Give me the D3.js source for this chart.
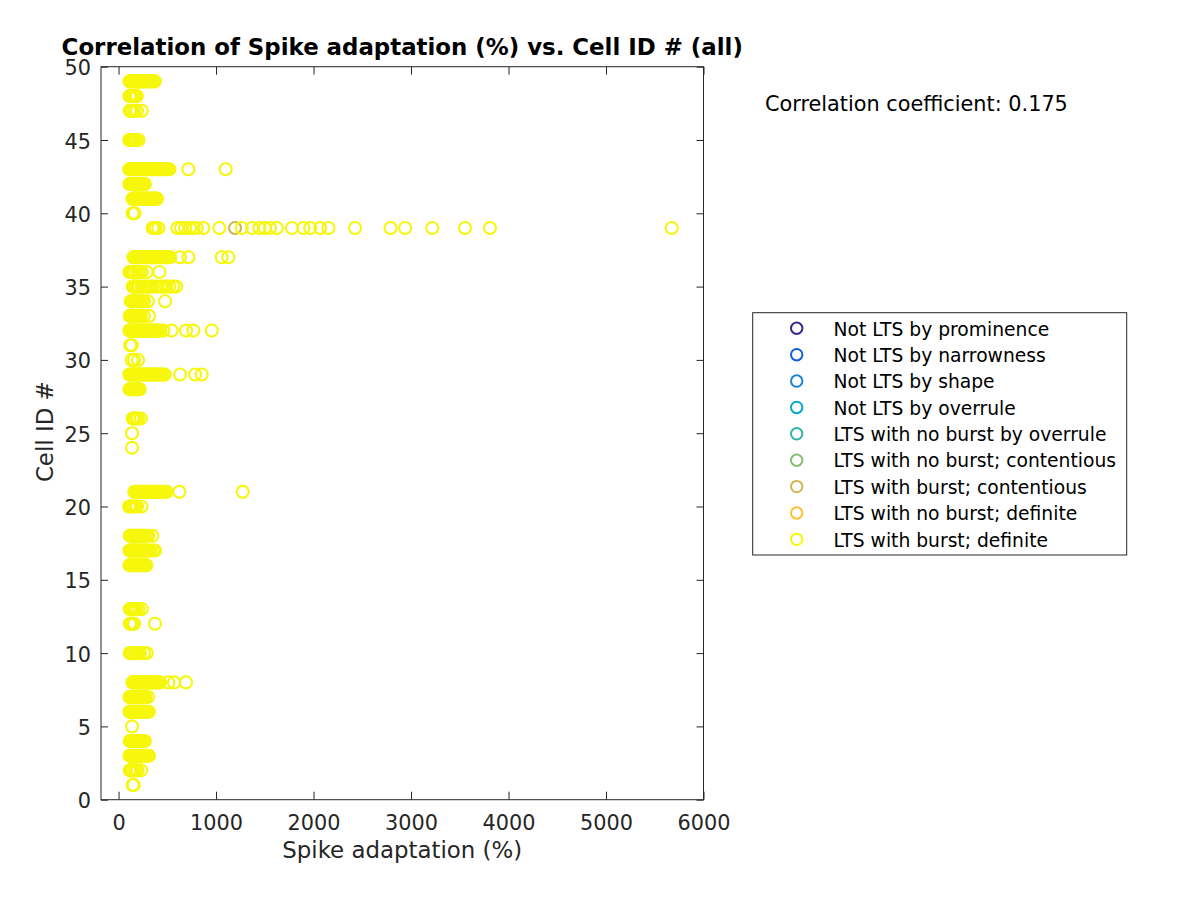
<!DOCTYPE html>
<html>
<head>
<meta charset="utf-8">
<script src="https://cdn.jsdelivr.net/npm/d3@7"></script>
<style>
  html, body { margin: 0; padding: 0; background: #ffffff; }
  svg { display: block; }
  text { font-family: "DejaVu Sans", sans-serif; }
</style>
</head>
<body>
<div id="chart"></div>
<script>
// ---------------- data ----------------
const titleText = "Correlation of Spike adaptation (%) vs. Cell ID # (all)";
const xLabelText = "Spike adaptation (%)";
const yLabelText = "Cell ID #";
const correlationCoefficient = 0.175;

const legendLabels = [
  "Not LTS by prominence",
  "Not LTS by narrowness",
  "Not LTS by shape",
  "Not LTS by overrule",
  "LTS with no burst by overrule",
  "LTS with no burst; contentious",
  "LTS with burst; contentious",
  "LTS with no burst; definite",
  "LTS with burst; definite"
];

const xTicks = [0, 1000, 2000, 3000, 4000, 5000, 6000];
const yTicks = [0, 5, 10, 15, 20, 25, 30, 35, 40, 45, 50];
const xDomain = [-180, 6000];
const yDomain = [0, 50];

// "LTS with burst; contentious"
const contentiousCells = [39];
const contentiousAdaptation = [[1195]];

// "LTS with burst; definite": cell IDs and the spike adaptation values of each cell
const definiteCells = [49, 48, 47, 45, 43, 42, 41, 40, 39, 37, 36, 35, 34, 33, 32, 31, 30, 29, 28,
  26, 25, 24, 21, 20, 18, 17, 16, 13, 12, 10, 8, 7, 6, 5, 4, 3, 2, 1];
const definiteAdaptation = [
  /*49*/ [112, 120, 128, 136, 145, 153, 162, 170, 180, 190, 200, 210, 220, 232, 245, 258, 270, 285, 300, 315, 330, 345, 360, 372],
  /*48*/ [112, 120, 128, 137, 150, 165, 180, 188],
  /*47*/ [115, 122, 130, 142, 165, 190, 238],
  /*45*/ [110, 120, 130, 140, 155, 170, 185, 205],
  /*43*/ [110, 118, 126, 135, 145, 155, 165, 175, 185, 196, 207, 218, 230, 242, 255, 268, 280, 292, 305, 318, 330, 342, 355, 368, 380, 393, 405, 418, 430, 445, 460, 475, 494, 510, 522, 716, 1099],
  /*42*/ [112, 120, 128, 137, 146, 155, 164, 173, 183, 193, 203, 214, 225, 237, 248, 260, 270],
  /*41*/ [142, 150, 158, 167, 176, 185, 195, 205, 215, 226, 237, 248, 260, 272, 284, 296, 308, 320, 333, 346, 359, 372, 385, 395],
  /*40*/ [145, 165],
  /*39*/ [350, 365, 380, 408, 603, 640, 682, 733, 770, 802, 870, 1034, 1264, 1370, 1444, 1500, 1554, 1623, 1778, 1897, 1966, 2068, 2153, 2426, 2790, 2940, 3218, 3554, 3810, 5674],
  /*37*/ [152, 160, 168, 177, 186, 195, 205, 215, 225, 236, 247, 258, 270, 282, 294, 306, 318, 330, 342, 355, 368, 381, 394, 407, 420, 433, 446, 460, 474, 488, 502, 516, 530, 631, 716, 1058, 1126],
  /*36*/ [112, 120, 130, 140, 152, 170, 195, 215, 238, 289, 419],
  /*35*/ [145, 152, 165, 180, 195, 210, 238, 260, 280, 300, 323, 350, 392, 430, 460, 490, 521, 560, 590],
  /*34*/ [125, 135, 150, 165, 180, 200, 220, 240, 260, 300, 477],
  /*33*/ [115, 122, 130, 140, 150, 162, 175, 188, 200, 215, 230, 260, 313],
  /*32*/ [110, 118, 126, 135, 144, 153, 162, 172, 182, 192, 203, 214, 225, 237, 249, 261, 274, 287, 300, 313, 326, 340, 354, 368, 382, 396, 410, 425, 460, 545, 692, 767, 956],
  /*31*/ [120, 135],
  /*30*/ [135, 160, 200],
  /*29*/ [110, 118, 126, 135, 144, 153, 162, 172, 182, 192, 203, 214, 225, 237, 249, 261, 274, 287, 300, 313, 326, 340, 354, 368, 382, 396, 410, 425, 440, 455, 475, 631, 785, 853],
  /*28*/ [112, 120, 128, 137, 146, 155, 165, 175, 186, 197, 208, 217],
  /*26*/ [145, 152, 160, 170, 180, 200, 228],
  /*25*/ [138],
  /*24*/ [138],
  /*21*/ [162, 170, 178, 187, 196, 205, 215, 225, 236, 247, 258, 270, 282, 294, 306, 318, 330, 342, 355, 368, 381, 394, 407, 420, 434, 448, 462, 476, 494, 624, 1274],
  /*20*/ [108, 120, 135, 150, 170, 190, 235],
  /*18*/ [115, 123, 131, 140, 150, 160, 170, 180, 190, 202, 215, 228, 240, 255, 270, 290, 305, 346],
  /*17*/ [112, 120, 128, 137, 146, 155, 165, 175, 185, 196, 207, 218, 230, 242, 255, 268, 282, 297, 312, 330, 357, 374],
  /*16*/ [112, 120, 128, 137, 146, 155, 164, 173, 183, 193, 203, 214, 225, 237, 249, 261, 273, 285],
  /*13*/ [115, 123, 131, 140, 152, 165, 180, 205, 238],
  /*12*/ [115, 125, 138, 150, 160, 374],
  /*10*/ [115, 125, 135, 142, 160, 180, 200, 220, 260, 289],
  /*8*/  [142, 150, 158, 167, 176, 185, 195, 205, 215, 226, 237, 248, 260, 272, 284, 296, 308, 320, 333, 346, 359, 372, 385, 398, 411, 425, 511, 569, 692],
  /*7*/  [112, 120, 128, 137, 146, 155, 164, 173, 183, 193, 203, 214, 225, 237, 250, 262, 275, 302],
  /*6*/  [112, 120, 128, 137, 146, 155, 164, 173, 183, 193, 203, 214, 225, 237, 249, 261, 273, 285, 297, 310],
  /*5*/  [138],
  /*4*/  [115, 123, 131, 140, 149, 158, 167, 177, 187, 197, 208, 220, 232, 245, 258, 270],
  /*3*/  [112, 120, 128, 137, 146, 155, 164, 173, 183, 193, 203, 214, 225, 237, 250, 265, 280, 295, 312],
  /*2*/  [115, 122, 130, 140, 159, 180, 195, 232],
  /*1*/  [145, 155]
];

// ---------------- style ----------------
const seriesColors = ["#352a87", "#0d5fe0", "#1883d8", "#07a6c9", "#2eb7a2",
                      "#86bf72", "#d2b552", "#fdc131", "#f6f70c"];
const W = 1200, H = 900;
const plot = { left: 101, right: 703.5, top: 66.7, bottom: 799.7 };
const axisColor = "#262626";
const baseFont = 20.8;

// ---------------- build ----------------
function toPoints(cells, values) {
  const pts = [];
  cells.forEach((c, i) => values[i].forEach(v => pts.push({ x: v, y: c })));
  return pts;
}
const seriesPoints = legendLabels.map(() => []);
seriesPoints[6] = toPoints(contentiousCells, contentiousAdaptation);
seriesPoints[8] = toPoints(definiteCells, definiteAdaptation);

const svg = d3.select("#chart").append("svg")
  .attr("width", W).attr("height", H)
  .attr("viewBox", `0 0 ${W} ${H}`);

svg.append("rect").attr("width", W).attr("height", H).attr("fill", "#ffffff");

const x = d3.scaleLinear().domain(xDomain).range([plot.left, plot.right]);
const y = d3.scaleLinear().domain(yDomain).range([plot.bottom, plot.top]);

svg.append("rect")
  .attr("x", plot.left).attr("y", plot.top)
  .attr("width", plot.right - plot.left).attr("height", plot.bottom - plot.top)
  .attr("fill", "#ffffff");

// points
const gPts = svg.append("g");
seriesPoints.forEach((pts, si) => {
  gPts.append("g").selectAll("circle").data(pts).join("circle")
    .attr("cx", d => x(d.x)).attr("cy", d => y(d.y)).attr("r", 6)
    .attr("fill", "none").attr("stroke", seriesColors[si]).attr("stroke-width", 2.1);
});

// axes with inward ticks on all four sides
const tickLenX = 8, tickLenY = 7;
const fmt = d3.format("d");
const gxB = svg.append("g").attr("transform", `translate(0,${plot.bottom})`)
  .call(d3.axisBottom(x).tickValues(xTicks).tickFormat(fmt).tickSizeInner(-tickLenX).tickSizeOuter(0).tickPadding(0));
const gxT = svg.append("g").attr("transform", `translate(0,${plot.top})`)
  .call(d3.axisTop(x).tickValues(xTicks).tickFormat("").tickSizeInner(-tickLenX).tickSizeOuter(0));
const gyL = svg.append("g").attr("transform", `translate(${plot.left},0)`)
  .call(d3.axisLeft(y).tickValues(yTicks).tickFormat(fmt).tickSizeInner(-tickLenY).tickSizeOuter(0).tickPadding(0));
const gyR = svg.append("g").attr("transform", `translate(${plot.right},0)`)
  .call(d3.axisRight(y).tickValues(yTicks).tickFormat("").tickSizeInner(-tickLenY).tickSizeOuter(0));

[gxB, gxT, gyL, gyR].forEach(g => {
  g.select(".domain").remove();
  g.selectAll(".tick line").attr("stroke", axisColor).attr("stroke-width", 1);
});
gxB.selectAll(".tick text")
  .attr("y", null).attr("dy", null)
  .attr("transform", "translate(0,30.3)")
  .attr("fill", axisColor).attr("font-size", baseFont).attr("font-family", "DejaVu Sans");
gyL.selectAll(".tick text")
  .attr("x", -10).attr("dy", null).attr("y", 8)
  .attr("fill", axisColor).attr("font-size", baseFont).attr("font-family", "DejaVu Sans");

// box
svg.append("rect")
  .attr("x", plot.left).attr("y", plot.top)
  .attr("width", plot.right - plot.left).attr("height", plot.bottom - plot.top)
  .attr("fill", "none").attr("stroke", axisColor).attr("stroke-width", 1);

// labels
svg.append("text").attr("x", (plot.left + plot.right) / 2).attr("y", 858.3)
  .attr("text-anchor", "middle").attr("font-size", baseFont * 1.1).attr("fill", axisColor)
  .text(xLabelText);
svg.append("text").attr("transform", `translate(53.3,${(plot.top + plot.bottom) / 2 - 1.5}) rotate(-90)`)
  .attr("text-anchor", "middle").attr("font-size", baseFont * 1.1).attr("fill", axisColor)
  .text(yLabelText);
svg.append("text").attr("x", (plot.left + plot.right) / 2).attr("y", 54.5)
  .attr("text-anchor", "middle").attr("font-size", baseFont * 1.1).attr("font-weight", "bold")
  .attr("fill", "#000000")
  .text(titleText);

svg.append("text").attr("x", 765).attr("y", 111)
  .attr("font-size", baseFont).attr("fill", "#000000")
  .text("Correlation coefficient: " + correlationCoefficient.toFixed(3));

// legend
const leg = { left: 752.7, top: 312.7, width: 374, height: 242.3, rowY0: 328.3, rowStep: 26.38, markerX: 796.7, textX: 833.5 };
const gLeg = svg.append("g");
gLeg.append("rect").attr("x", leg.left).attr("y", leg.top)
  .attr("width", leg.width).attr("height", leg.height)
  .attr("fill", "#ffffff").attr("stroke", axisColor).attr("stroke-width", 1);
const rows = gLeg.selectAll("g.row").data(legendLabels).join("g").attr("class", "row")
  .attr("transform", (d, i) => `translate(0,${leg.rowY0 + i * leg.rowStep})`);
rows.append("circle").attr("cx", leg.markerX).attr("cy", 0).attr("r", 5.7)
  .attr("fill", "none").attr("stroke", (d, i) => seriesColors[i]).attr("stroke-width", 2);
rows.append("text").attr("x", leg.textX).attr("y", 7.2)
  .attr("font-size", baseFont * 0.9).attr("fill", "#000000")
  .text(d => d);
</script>
</body>
</html>
